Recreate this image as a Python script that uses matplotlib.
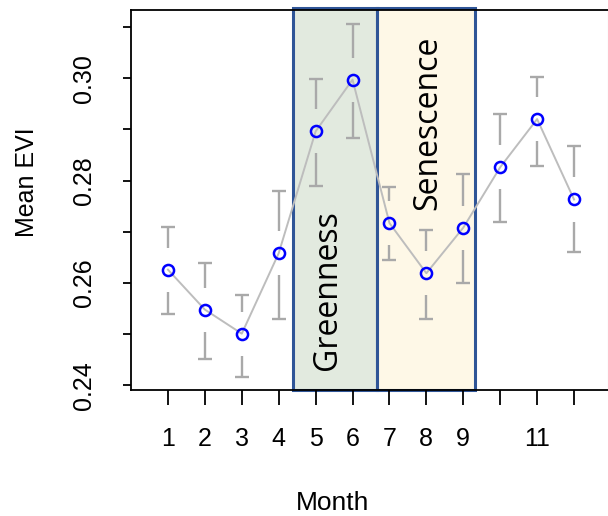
import matplotlib
matplotlib.use('Agg')
import matplotlib.pyplot as plt
import matplotlib.transforms as mtransforms
import numpy as np

# Данные: средний EVI по месяцам с границами ошибок
months = [1, 2, 3, 4, 5, 6, 7, 8, 9, 10, 11, 12]
mean_evi = [0.2626, 0.2548, 0.2501, 0.2658, 0.2896, 0.2997,
            0.2717, 0.2619, 0.2708, 0.2826, 0.2920, 0.2763]
upper_evi = [0.2710, 0.2639, 0.2577, 0.2780, 0.2999, 0.3105,
             0.2788, 0.2703, 0.2813, 0.2930, 0.3003, 0.2867]
lower_evi = [0.2539, 0.2452, 0.2417, 0.2530, 0.2789, 0.2883,
             0.2645, 0.2530, 0.2600, 0.2719, 0.2828, 0.2660]
month_labels = ['1', '2', '3', '4', '5', '6', '7', '8', '9', '', '11', '']
y_ticks = [0.24, 0.25, 0.26, 0.27, 0.28, 0.29, 0.30, 0.31]
y_labels = ['0.24', '', '0.26', '', '0.28', '', '0.30', '']

# Фазы сезона (прямоугольники)
phase_names = ['Greenness', 'Senescence']
phase_start = [4.39, 6.65]
phase_end = [6.65, 9.32]
phase_colors = ['#e2eadf', '#fef8e7']
phase_text_x = [5.32, 8.03]
phase_text_y = [0.2586, 0.2913]

plt.rcParams['font.family'] = ['Liberation Sans', 'DejaVu Sans']

fig = plt.figure(figsize=(6.08, 5.16), dpi=100)
ax = fig.add_axes([0.2155, 0.2442, 0.7845, 0.7364])

# Прямоугольники фаз
trans = mtransforms.blended_transform_factory(ax.transData, ax.transAxes)
for x0, x1, c in zip(phase_start, phase_end, phase_colors):
    rect = plt.Rectangle((x0, 0), x1 - x0, 1.005, transform=trans,
                         facecolor=c, edgecolor='#2f5597', linewidth=2.2,
                         clip_on=False, zorder=1)
    ax.add_patch(rect)

# Линия между средними
ax.plot(months, mean_evi, color='#bdbdbd', linewidth=1.4, zorder=2)

# Усы с разрывом вокруг точки
gap = 0.0043
m = np.array(mean_evi)
ax.vlines(months, m + gap, upper_evi, color='#a9a9a9', linewidth=1.7, zorder=2)
ax.vlines(months, lower_evi, m - gap, color='#a9a9a9', linewidth=1.7, zorder=2)
ax.plot(months, upper_evi, '_', color='#a9a9a9', markersize=10, mew=1.7, zorder=2)
ax.plot(months, lower_evi, '_', color='#a9a9a9', markersize=10, mew=1.7, zorder=2)

# Точки
ax.plot(months, mean_evi, 'o', markerfacecolor='none', markeredgecolor='#0000ff',
        markersize=8, mew=1.8, zorder=3)

for name, tx, ty in zip(phase_names, phase_text_x, phase_text_y):
    ax.text(tx, ty, name, rotation=90, ha='center', va='center',
            fontsize=23, family=['Open Sans', 'DejaVu Sans'], zorder=4)

ax.set_xlim(0, 12.92)
ax.set_ylim(0.2391, 0.3133)
ax.set_xticks(months)
ax.set_xticklabels(month_labels, fontsize=18)
ax.set_yticks(y_ticks)
ax.set_yticklabels(y_labels, fontsize=18, rotation=90, va='center')
ax.tick_params(axis='x', length=11, width=1.3, pad=16)
ax.tick_params(axis='y', length=6, width=1.3, pad=19)

for s in ['left', 'bottom', 'top']:
    ax.spines[s].set_linewidth(1.3)
ax.spines['right'].set_color('#d0d0d0')

fig.text(0.5465, 1 - 503 / 516, 'Month', ha='center', va='center', fontsize=19)
fig.text(27 / 608, 1 - 182 / 516, 'Mean EVI', ha='center', va='center',
         rotation=90, fontsize=18)

fig.savefig('out.png', dpi=100)
